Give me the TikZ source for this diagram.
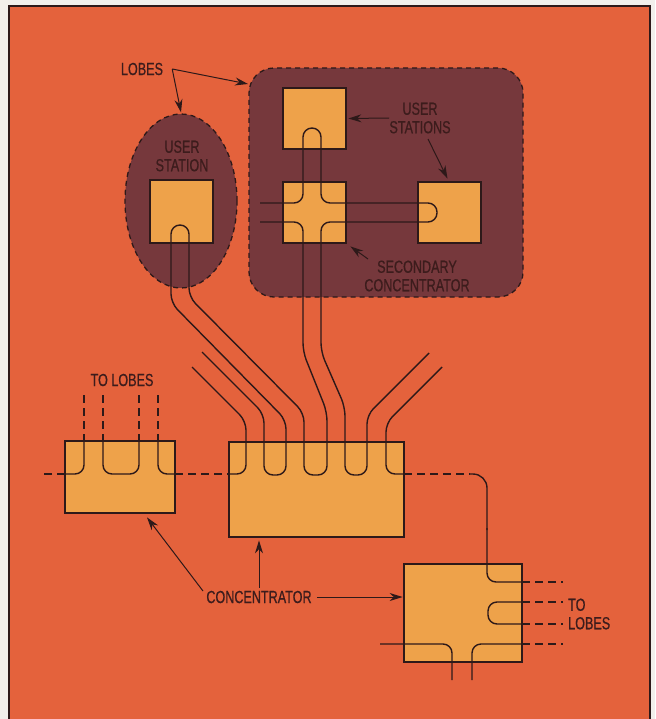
\documentclass[tikz,border=0pt]{standalone}
\usepackage{fontspec}
\setmainfont{Liberation Sans}[FakeStretch=0.72,FakeBold=0.6]
\usetikzlibrary{arrows.meta,shapes.geometric}
\definecolor{bg}{RGB}{228,98,60}
\definecolor{boxfill}{RGB}{238,162,74}
\definecolor{lobe}{RGB}{118,56,60}
\definecolor{ink}{RGB}{45,25,25}
\definecolor{txt}{RGB}{60,28,28}
\definecolor{paper}{RGB}{242,239,235}
\tikzset{
  box/.style={draw=ink, line width=2.8pt, fill=boxfill, inner sep=0pt},
  wire/.style={draw=ink, line width=1.4pt, rounded corners=9pt},
  dwire/.style={draw=ink, line width=1.4pt, dash pattern=on 8pt off 5pt},
  lbl/.style={text=txt, font=\fontsize{17.5}{18.5}\selectfont, align=center, inner sep=0pt},
  arr/.style={draw=ink, line width=1pt, -{Stealth[length=13pt,width=8pt]}},
  lobeline/.style={draw=ink, line width=1.3pt, dash pattern=on 5pt off 4pt, fill=lobe, inner sep=0pt},
}
\begin{document}
\begin{tikzpicture}[x=1pt,y=-1pt]
\clip (0,0) rectangle (655,719);
\fill[paper] (0,0) rectangle (655,719);
\filldraw[fill=bg, draw=ink, line width=2pt] (9,6) rectangle (650,730);

% lobes
\node[lobeline, ellipse, minimum width=112pt, minimum height=174pt] (lobeL) at (181,201) {};
\node[lobeline, rectangle, rounded corners=25pt, minimum width=274pt, minimum height=229pt] (lobeR) at (386,182.5) {};

% boxes
\node[box, minimum width=63pt, minimum height=63pt] (us1) at (181.5,211.5) {};
\node[box, minimum width=63pt, minimum height=61pt] (us2) at (314.5,118.5) {};
\node[box, minimum width=63pt, minimum height=61pt] (sc) at (314.5,212.5) {};
\node[box, minimum width=63pt, minimum height=61pt] (us3) at (449.5,212.5) {};
\node[box, minimum width=110pt, minimum height=72pt] (c1) at (120,477) {};
\node[box, minimum width=175pt, minimum height=95pt] (c2) at (316.5,489.5) {};
\node[box, minimum width=118pt, minimum height=98pt] (c3) at (463,613) {};

% ring wires
\draw[wire] (202,352) -- (264,414) -- (264,475) -- (286,475) -- (286,420) -- (171,303)
  -- (171,225) -- (189,225) -- (189,297) -- (304,413) -- (304,475) -- (327,475)
  -- (327,412) -- (303,352) -- (303,222) -- (260,222);
\draw[wire] (260,203) -- (303,203) -- (303,128) -- (321,128) -- (321,203) -- (437,203)
  -- (437,222) -- (321,222) -- (321,352) -- (345,407) -- (345,475) -- (367,475)
  -- (367,415) -- (429,353);
\draw[wire] (192,367) -- (246,421) -- (246,474) -- (229,474);
\draw[wire] (442,367) -- (386,423) -- (386,474) -- (404,474);

% left concentrator
\foreach \x in {84,103,139,158} \draw[dwire] (\x,395) -- (\x,441);
\draw[wire] (84,441) -- (84,474) -- (65,474);
\draw[dwire] (65,474) -- (40,474);
\draw[wire] (103,441) -- (103,474) -- (139,474) -- (139,441);
\draw[wire] (158,441) -- (158,474) -- (175,474);
\draw[dwire] (175,474) -- (229,474);

% right link
\draw[dwire] (404,474) -- (470,474);
\draw[wire, rounded corners=14pt] (470,474) -- (487,474) -- (487,530);
\draw[wire] (487,528) -- (487,582) -- (522,582);

% bottom right concentrator
\draw[wire] (522,602) -- (488,602) -- (488,624) -- (522,624);
\foreach \y in {582,602,624,644} \draw[dwire] (522,\y) -- (563,\y);
\draw[wire] (522,644) -- (472,644) -- (472,680);
\draw[wire] (380,644) -- (452,644) -- (452,680);

% labels
\node[lbl] (tLobes) at (142,69) {LOBES};
\coordinate (lobesFork) at ([xshift=9pt]tLobes.east);
\coordinate (lobeRtip) at (248,84);
\draw[arr] (lobesFork) -- ([yshift=1pt]lobeL.north);
\draw[arr] (lobesFork) -- (lobeRtip);

\node[lbl] (tUSone) at (182,156) {USER\\STATION};

\node[lbl] (tUS) at (420,118) {USER\\STATIONS};
\coordinate (usArrStart) at (428,139);
\draw[arr] (tUS.west) -- ([xshift=1pt]us2.east);
\draw[arr] (usArrStart) -- ([xshift=-2pt,yshift=2pt]us3.north);

\node[lbl] (tSC) at (417,276) {SECONDARY\\CONCENTRATOR};
\coordinate (scArrStart) at (368,259);
\draw[arr] (scArrStart) -- ([xshift=3pt,yshift=-2pt]sc.south east);

\node[lbl] (tTLa) at (122,380) {TO LOBES};
\node[lbl, align=left, anchor=west] (tTLb) at (568,614) {TO\\LOBES};

\node[lbl] (tC) at (259,597) {CONCENTRATOR};
\coordinate (cArrStart) at (203,591);
\draw[arr] (cArrStart) -- ([xshift=27pt,yshift=-3pt]c1.south);
\draw[arr] ([yshift=3pt]tC.north) -- ([yshift=-2pt]c2.south -| tC.north);
\draw[arr] ([xshift=5pt]tC.east) -- (c3.west |- tC.east);
\end{tikzpicture}
\end{document}
